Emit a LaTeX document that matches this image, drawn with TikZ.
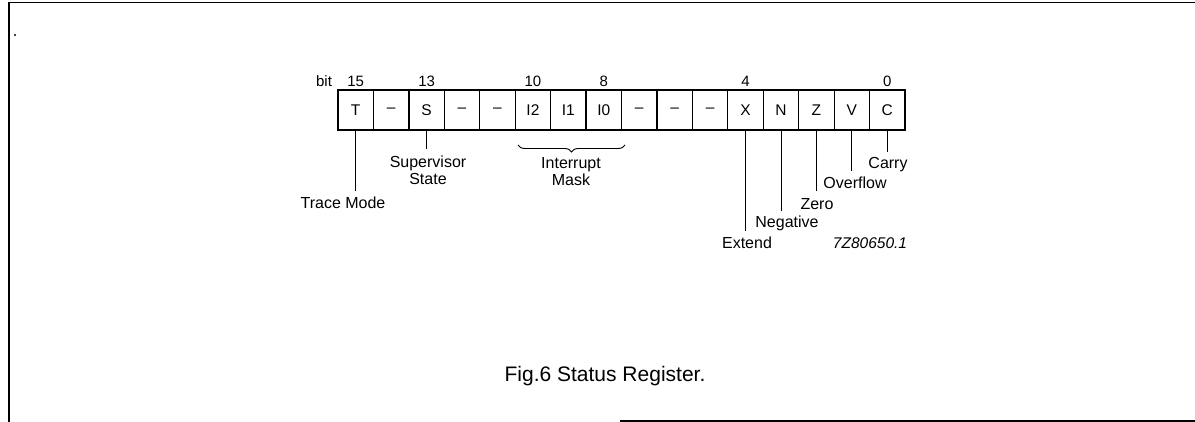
\documentclass[tikz,border=0pt]{standalone}
\usepackage{fontspec}
\setmainfont{Liberation Sans}
\usetikzlibrary{decorations.pathreplacing}
\begin{document}
\begin{tikzpicture}[x=1pt,y=-1pt,
  cell/.style={draw,line width=1.3pt,minimum width=35.44pt,minimum height=40pt,inner sep=0pt,outer sep=0pt,anchor=north west,font=\fontsize{15.5}{15.5}\selectfont},
  lbl/.style={font=\fontsize{16}{17}\selectfont,inner sep=0pt,align=center},
  bitn/.style={font=\fontsize{15}{15}\selectfont,inner sep=0pt},
  lead/.style={line width=0.9pt},
  frame/.style={line width=1.6pt}]
\useasboundingbox (0,0) rectangle (1195,422);
% frame
\coordinate (fa) at (9,422);
\coordinate (fb) at (9,2.5);
\coordinate (fc) at (1195,2.5);
\coordinate (fd) at (620,421);
\coordinate (fe) at (1195,421);
\draw[frame] (fa) -- (fb) -- (fc);
\draw[frame] (fd) -- (fe);
\fill (15,35) circle (1.2);
% register cells
\foreach \t [count=\i from 0] in {T,--,S,--,--,I2,I1,I0,--,--,--,X,N,Z,V,C}
  \node[cell] (c\i) at ({338+35.44*\i},90) {\t};
% bit numbers
\node[bitn] (bit) at (324,81) {bit};
\node[bitn] (b15) at (c0.north |- 0,81) {15};
\node[bitn] (b13) at (c2.north |- 0,81) {13};
\node[bitn] (b10) at (c5.north |- 0,81) {10};
\node[bitn] (b8) at (c7.north |- 0,81) {8};
\node[bitn] (b4) at (c11.north |- 0,81) {4};
\node[bitn] (b0) at (c15.north |- 0,81) {0};
% left labels
\node[lbl] (trace) at (343,203) {Trace Mode};
\coordinate (tend) at (c0.south |- 0,191);
\draw[lead] (c0.south) -- (tend);
\node[lbl] (sup) at (428,170) {Supervisor\\State};
\coordinate (send) at (c2.south |- 0,149);
\draw[lead] (c2.south) -- (send);
\coordinate (ba) at (518,145);
\coordinate (bb) at (625,145);
\draw[lead,decorate,decoration={brace,amplitude=7pt,mirror}] (ba) -- (bb);
\node[lbl] (imask) at (571,172) {Interrupt\\Mask};
% right labels
\node[lbl] (ext) at (747,243) {Extend};
\coordinate (xend) at (c11.south |- 0,231);
\draw[lead] (c11.south) -- (xend);
\node[lbl] (neg) at (787,223) {Negative};
\coordinate (nend) at (c12.south |- 0,211);
\draw[lead] (c12.south) -- (nend);
\node[lbl] (zero) at (817,204) {Zero};
\coordinate (zend) at (c13.south |- 0,191);
\draw[lead] (c13.south) -- (zend);
\node[lbl] (ovf) at (855,183) {Overflow};
\coordinate (vend) at (c14.south |- 0,171);
\draw[lead] (c14.south) -- (vend);
\node[lbl] (carry) at (888,165) {Carry};
\coordinate (cend) at (c15.south |- 0,152);
\draw[lead] (c15.south) -- (cend);
% code and caption
\node[font=\fontsize{15.5}{15.5}\selectfont\itshape,inner sep=0pt] (code) at (870,243) {7Z80650.1};
\node[font=\fontsize{21}{21}\selectfont,inner sep=0pt] (cap) at (605,376) {Fig.6 Status Register.};
\end{tikzpicture}
\end{document}
